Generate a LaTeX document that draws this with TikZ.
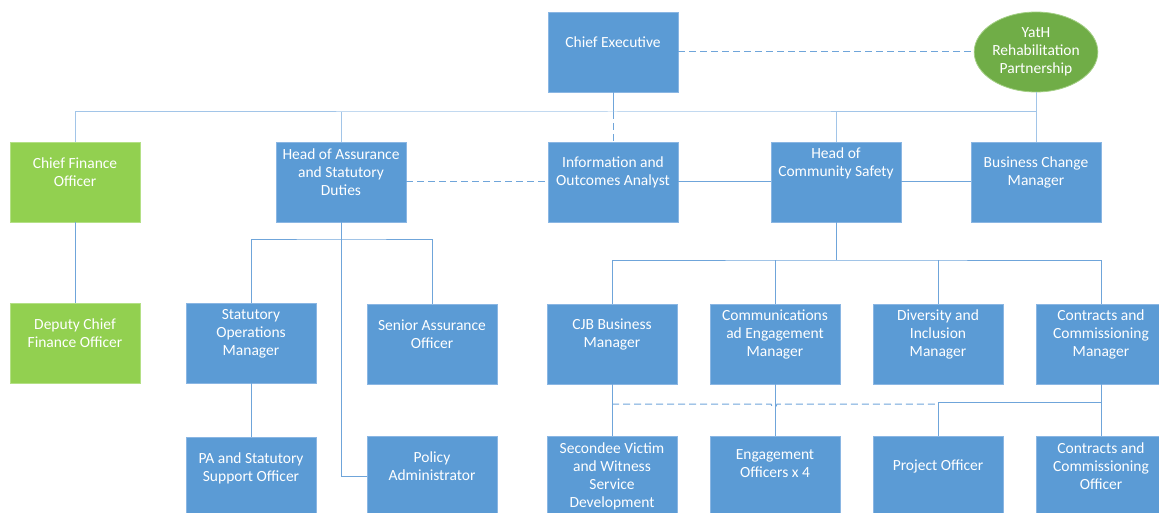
\documentclass[tikz,border=0pt]{standalone}
\usepackage{fontspec}
\setmainfont{Carlito}
\usetikzlibrary{shapes.geometric}

\definecolor{postblue}{HTML}{5B9BD5}
\definecolor{postedge}{HTML}{8AB6E3}
\definecolor{postgreen}{HTML}{92D050}
\definecolor{greenedge}{HTML}{B4E086}
\definecolor{yathgreen}{HTML}{70AD47}
\definecolor{yathedge}{HTML}{A4CF86}
\definecolor{busblue}{HTML}{A2C5E8}
\definecolor{linkblue}{HTML}{6FA5DA}

\begin{document}
\begin{tikzpicture}[x=1pt,y=-1pt,
  post/.style={rectangle,fill=postblue,draw=postedge,line width=.8pt,
    minimum width=130pt,minimum height=80pt,inner sep=0pt},
  fin/.style={post,fill=postgreen,draw=greenedge},
  txt/.style={text=white,align=center,inner sep=0pt,yshift=9.5pt,
    font=\fontsize{15.5}{18}\selectfont},
  bus/.style={draw=busblue,line width=1pt},
  link/.style={draw=linkblue,line width=1pt},
  dashlink/.style={link,dash pattern=on 7pt off 4pt}]
  \useasboundingbox (0,0) rectangle (1159,513);
  \clip (0,0) rectangle (1159,513);

  % top level
  \node[post,label={[txt]center:Chief Executive}] (ce) at (613,52) {};
  \node[ellipse,fill=yathgreen,draw=yathedge,line width=.8pt,
    minimum width=120pt,minimum height=80pt,inner sep=0pt,
    text=white,align=center,font=\fontsize{15.5}{18}\selectfont]
    (yath) at (1036,52) {YatH\\Rehabilitation\\Partnership};

  \node[fin,label={[txt]center:{Chief Finance\\Officer}}] (cfo) at (75,182) {};
  \node[post,label={[txt]center:{Head of Assurance\\and Statutory\\Duties}}] (hoa) at (341,182) {};
  \node[post,label={[txt]center:{Information and\\Outcomes Analyst}}] (ioa) at (613,182) {};
  \node[post,label={[txt,yshift=9pt]center:{Head of\\Community Safety}}] (hcs) at (836,182) {};
  \node[post,label={[txt]center:{Business Change\\Manager}}] (bcm) at (1036,182) {};

  % third row
  \node[fin,label={[txt]center:{Deputy Chief\\Finance Officer}}] (dcfo) at (75,343) {};
  \node[post,label={[txt]center:{Statutory\\Operations\\Manager}}] (som) at (251,343) {};
  \node[post,label={[txt]center:{Senior Assurance\\Officer}}] (sao) at (432,344) {};
  \node[post,label={[txt]center:{CJB Business\\Manager}}] (cjb) at (612,344) {};
  \node[post,label={[txt]center:{Communications\\ad Engagement\\Manager}}] (cem) at (775,344) {};
  \node[post,label={[txt]center:{Diversity and\\Inclusion\\Manager}}] (dim) at (938,344) {};
  \node[post,label={[txt]center:{Contracts and\\Commissioning\\Manager}}] (ccm) at (1101,344) {};

  % bottom row
  \node[post,label={[txt,yshift=-1pt]center:{PA and Statutory\\Support Officer}}] (pa) at (251,477) {};
  \node[post,label={[txt]center:{Policy\\Administrator}}] (pol) at (432,476) {};
  \node[post,label={[txt,yshift=-9.5pt]center:{Secondee Victim\\and Witness\\Service\\Development}}] (svw) at (612,476) {};
  \node[post,label={[txt,yshift=3pt]center:{Engagement\\Officers x 4}}] (eng) at (775,476) {};
  \node[post,label={[txt]center:Project Officer}] (po) at (938,476) {};
  \node[post,label={[txt]center:{Contracts and\\Commissioning\\Officer}}] (cco) at (1101,476) {};

  \coordinate (top) at (613,112);
  \coordinate (hoabus) at (341,239);
  \coordinate (hcsbus) at (836,260);
  \coordinate (ccmbus) at (1101,402);
  \coordinate (cjbtap) at (612,404);

  % links under the chief executive
  \draw[link] (ce.south) -- (top);
  \draw[dashlink] (top) -- (ioa.north);
  \draw[bus] (cfo.north) |- (top) -| (yath.south);
  \draw[bus] (yath.south) -- (bcm.north);
  \draw[bus] (hoa.north) -- (hoa.north |- top);
  \draw[bus] (hcs.north) -- (hcs.north |- top);
  \draw[dashlink] (ce.east) -- (yath.west);
  \draw[dashlink] (hoa.east) -- (ioa.west);
  \draw[link] (ioa.east) -- (hcs.west);
  \draw[link] (hcs.east) -- (bcm.west);

  % finance and assurance
  \draw[link] (cfo) -- (dcfo);
  \draw[link] (hoa.south) -- (hoabus);
  \draw[link] (som.north) |- (hoabus) -| (sao.north);
  \draw[link] (hoabus) |- (pol.west);
  \draw[link] (som) -- (pa);

  % community safety
  \draw[link] (hcs.south) -- (hcsbus);
  \draw[link] (cjb.north) |- (hcsbus) -| (ccm.north);
  \draw[link] (cem.north) -- (cem.north |- hcsbus);
  \draw[link] (dim.north) -- (dim.north |- hcsbus);
  \draw[link] (cjb) -- (svw);
  \draw[link] (cem) -- (eng);
  \draw[link] (ccm) -- (cco);
  \draw[link] (po.north) |- (ccmbus);
  \draw[dashlink] (cjbtap) -- (771,404)
    arc[start angle=180,end angle=360,radius=3pt] -- (po.north |- cjbtap);
\end{tikzpicture}
\end{document}
